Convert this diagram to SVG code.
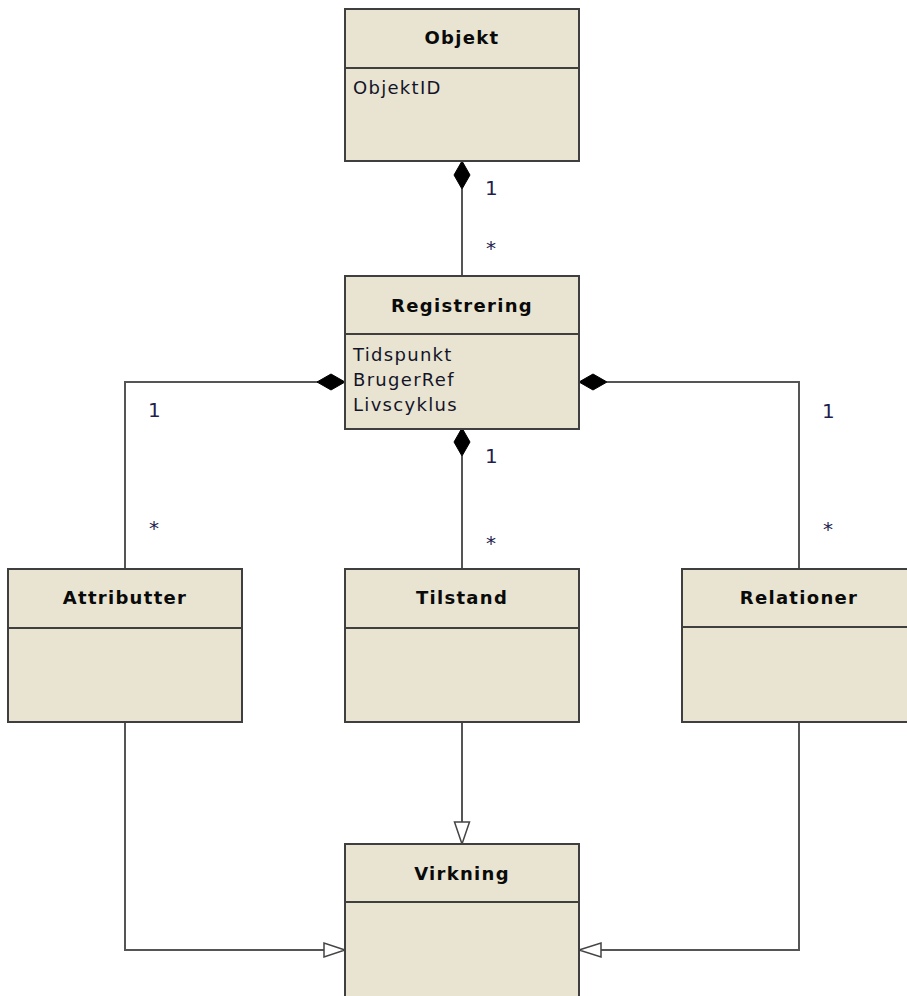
<svg xmlns="http://www.w3.org/2000/svg" width="907" height="996" viewBox="0 0 907 996">
<style>
.box{fill:#e8e4d1;stroke:#3f3f3f;stroke-width:2}
.div{stroke:#3f3f3f;stroke-width:2}
.title{font-family:"DejaVu Sans",Verdana,sans-serif;font-size:18px;font-weight:bold;letter-spacing:1.3px;fill:#0a0a0a;text-anchor:middle}
.attr{font-family:"DejaVu Sans",Verdana,sans-serif;font-size:18px;letter-spacing:1.3px;fill:#141428}
.mult{font-family:"DejaVu Sans",Verdana,sans-serif;font-size:20px;fill:#1f1f4f}
.line{fill:none;stroke:#555;stroke-width:2}
.dia{fill:#000;stroke:#000;stroke-width:1}
.tri{fill:#fff;stroke:#444;stroke-width:1.5}
</style>
<rect width="907" height="996" fill="#fff"/>
<g id="connectors">
  <path class="line" d="M462 189 V276"/>
  <polygon class="dia" points="462,161 470,175 462,189 454,175"/>
  <path class="line" d="M318 382 H125 V569"/>
  <polygon class="dia" points="345,382 331,374 317,382 331,390"/>
  <path class="line" d="M607 382 H799 V569"/>
  <polygon class="dia" points="579,382 593,374 607,382 593,390"/>
  <path class="line" d="M462 456 V569"/>
  <polygon class="dia" points="462,428 470,442 462,456 454,442"/>
  <path class="line" d="M462 722 V822"/>
  <polygon class="tri" points="462,844 454.5,822 469.5,822"/>
  <path class="line" d="M125 722 V950 H324"/>
  <polygon class="tri" points="345,950 324,943 324,957"/>
  <path class="line" d="M799 722 V950 H601"/>
  <polygon class="tri" points="579,950 601,943 601,957"/>
  <text class="mult" x="485" y="195">1</text>
  <text class="mult" x="486" y="255">*</text>
  <text class="mult" x="148" y="417">1</text>
  <text class="mult" x="149" y="535">*</text>
  <text class="mult" x="822" y="418">1</text>
  <text class="mult" x="823" y="536">*</text>
  <text class="mult" x="485" y="463">1</text>
  <text class="mult" x="486" y="550">*</text>
</g>
<g id="Objekt">
  <rect class="box" x="345" y="9" width="234" height="152"/>
  <line class="div" x1="345" y1="68" x2="579" y2="68"/>
  <text class="title" x="462" y="44">Objekt</text>
  <text class="attr" x="353" y="94">ObjektID</text>
</g>
<g id="Registrering">
  <rect class="box" x="345" y="276" width="234" height="153"/>
  <line class="div" x1="345" y1="334" x2="579" y2="334"/>
  <text class="title" x="462" y="312">Registrering</text>
  <text class="attr" x="353" y="361">Tidspunkt</text>
  <text class="attr" x="353" y="386">BrugerRef</text>
  <text class="attr" x="353" y="411">Livscyklus</text>
</g>
<g id="Attributter">
  <rect class="box" x="8" y="569" width="234" height="153"/>
  <line class="div" x1="8" y1="628" x2="242" y2="628"/>
  <text class="title" x="125" y="604">Attributter</text>
</g>
<g id="Tilstand">
  <rect class="box" x="345" y="569" width="234" height="153"/>
  <line class="div" x1="345" y1="628" x2="579" y2="628"/>
  <text class="title" x="462" y="604">Tilstand</text>
</g>
<g id="Relationer">
  <rect class="box" x="682" y="569" width="234" height="153"/>
  <line class="div" x1="682" y1="627" x2="916" y2="627"/>
  <text class="title" x="799" y="604">Relationer</text>
</g>
<g id="Virkning">
  <rect class="box" x="345" y="844" width="234" height="170"/>
  <line class="div" x1="345" y1="902" x2="579" y2="902"/>
  <text class="title" x="462" y="880">Virkning</text>
</g>
</svg>
